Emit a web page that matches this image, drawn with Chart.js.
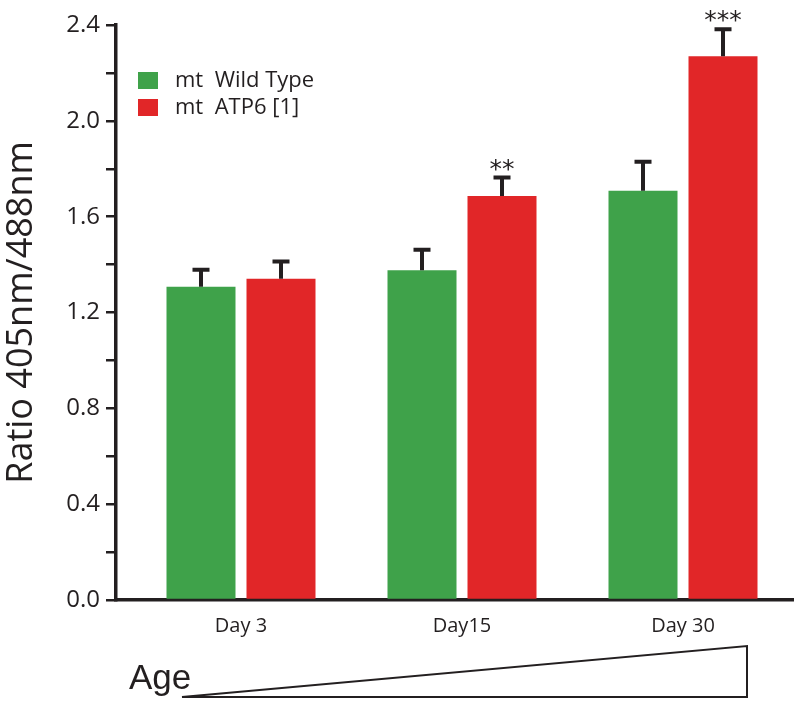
<!DOCTYPE html>
<html><head><meta charset="utf-8">
<script src="https://cdn.jsdelivr.net/npm/chart.js@4.4.1/dist/chart.umd.min.js"></script>
<style>html,body{margin:0;padding:0;background:#fff;} canvas{display:block;}</style>
</head><body>
<canvas id="c" width="800" height="705"></canvas>
<script>
// ---- data ----
const categories = ['Day 3', 'Day15', 'Day 30'];
const seriesNames = ['mt  Wild Type', 'mt  ATP6 [1]'];
const wildType = [1.307, 1.376, 1.708];
const wildTypeErr = [0.071, 0.086, 0.121];
const atp6 = [1.341, 1.686, 2.270];
const atp6Err = [0.072, 0.077, 0.112];
const wildTypeSig = ['', '', ''];
const atp6Sig = ['', '**', '***'];
const yTickLabels = ['0.0', '0.4', '0.8', '1.2', '1.6', '2.0', '2.4'];
const yTitle = 'Ratio 405nm/488nm';
const ageLabel = 'Age';

// ---- style ----
const INK = '#231f20';
const GREEN = '#3fa24a';
const RED = '#e12628';
const FONT = '"Open Sans", sans-serif';

const errorBarPlugin = {
  id: 'errorBars',
  afterDatasetsDraw(chart) {
    const ctx = chart.ctx;
    const yScale = chart.scales.y;
    chart.data.datasets.forEach((ds, i) => {
      const meta = chart.getDatasetMeta(i);
      meta.data.forEach((el, j) => {
        const v = ds.data[j].y;
        const e = ds.errors[j];
        const yTop = yScale.getPixelForValue(v + e);
        ctx.save();
        ctx.strokeStyle = INK;
        ctx.lineWidth = 4;
        ctx.lineCap = 'butt';
        ctx.beginPath();
        ctx.moveTo(el.x, el.y);
        ctx.lineTo(el.x, yTop);
        ctx.moveTo(el.x - 8.5, yTop);
        ctx.lineTo(el.x + 8.5, yTop);
        ctx.stroke();
        const s = ds.sig[j];
        if (s) {
          ctx.fillStyle = INK;
          ctx.font = '25px "DejaVu Sans"';
          ctx.textAlign = 'center';
          ctx.textBaseline = 'alphabetic';
          ctx.fillText(s, el.x, yTop - 1);
        }
        ctx.restore();
      });
    });
  }
};

const legendPlugin = {
  id: 'insideLegend',
  afterDraw(chart) {
    const ctx = chart.ctx;
    const a = chart.chartArea;
    ctx.save();
    chart.data.datasets.forEach((ds, i) => {
      const bx = a.left + 22, by = a.top + 47 + i * 27;
      ctx.fillStyle = ds.backgroundColor;
      ctx.fillRect(bx, by, 20, 17);
      ctx.fillStyle = INK;
      ctx.font = '22px ' + FONT;
      ctx.textAlign = 'left';
      ctx.textBaseline = 'middle';
      ctx.fillText(ds.label, bx + 37, by + 9);
    });
    ctx.restore();
  }
};

const agePlugin = {
  id: 'ageWedge',
  afterDraw(chart) {
    const ctx = chart.ctx;
    ctx.save();
    ctx.fillStyle = INK;
    ctx.font = '35px "Liberation Sans", Arial, sans-serif';
    ctx.textAlign = 'left';
    ctx.textBaseline = 'alphabetic';
    ctx.fillText(ageLabel, 129, 689);
    ctx.strokeStyle = INK;
    ctx.lineWidth = 2;
    ctx.beginPath();
    ctx.moveTo(182, 697);
    ctx.lineTo(747, 697);
    ctx.lineTo(747, 646);
    ctx.closePath();
    ctx.stroke();
    ctx.restore();
  }
};

const mkData = (vals) => vals.map((v, i) => ({ x: i, y: v }));

new Chart(document.getElementById('c'), {
  type: 'bar',
  data: {
    datasets: [
      { label: seriesNames[0], data: mkData(wildType), errors: wildTypeErr, sig: wildTypeSig,
        backgroundColor: GREEN, categoryPercentage: 0.724, barPercentage: 0.8625 },
      { label: seriesNames[1], data: mkData(atp6), errors: atp6Err, sig: atp6Sig,
        backgroundColor: RED, categoryPercentage: 0.724, barPercentage: 0.8625 }
    ]
  },
  options: {
    responsive: false,
    animation: false,
    devicePixelRatio: 1,
    events: [],
    layout: { padding: { top: 25, right: 7, bottom: 0, left: 0 } },
    plugins: { legend: { display: false }, tooltip: { enabled: false } },
    scales: {
      x: {
        type: 'linear',
        min: -0.5656,
        max: 2.4977,
        offset: false,
        afterBuildTicks: (s) => { s.ticks = categories.map((c, i) => ({ value: i })); },
        ticks: { callback: (v) => categories[v] ?? '', color: INK, font: { family: FONT, size: 20 },
                 padding: 6, autoSkip: false, maxRotation: 0, includeBounds: false },
        grid: { display: false },
        border: { display: true, color: INK, width: 3.5 },
        afterFit: (s) => { s.height = 105; }
      },
      y: {
        min: 0,
        max: 2.4,
        ticks: {
          stepSize: 0.2,
          autoSkip: false,
          callback: (v) => { const k = Math.round(v * 10); return k % 4 === 0 ? yTickLabels[k / 4] : ''; },
          color: INK, font: { family: FONT, size: 24 }, padding: 6
        },
        grid: { drawOnChartArea: false, drawTicks: true, tickLength: 10, color: INK, lineWidth: 2.5 },
        border: { display: true, color: INK, width: 3.5 },
        title: { display: true, text: yTitle, color: INK, font: { family: FONT, size: 36, lineHeight: 1.2 }, padding: 0 },
        afterFit: (s) => { s.width = 116; }
      }
    }
  },
  plugins: [errorBarPlugin, legendPlugin, agePlugin]
});
</script>
</body></html>
